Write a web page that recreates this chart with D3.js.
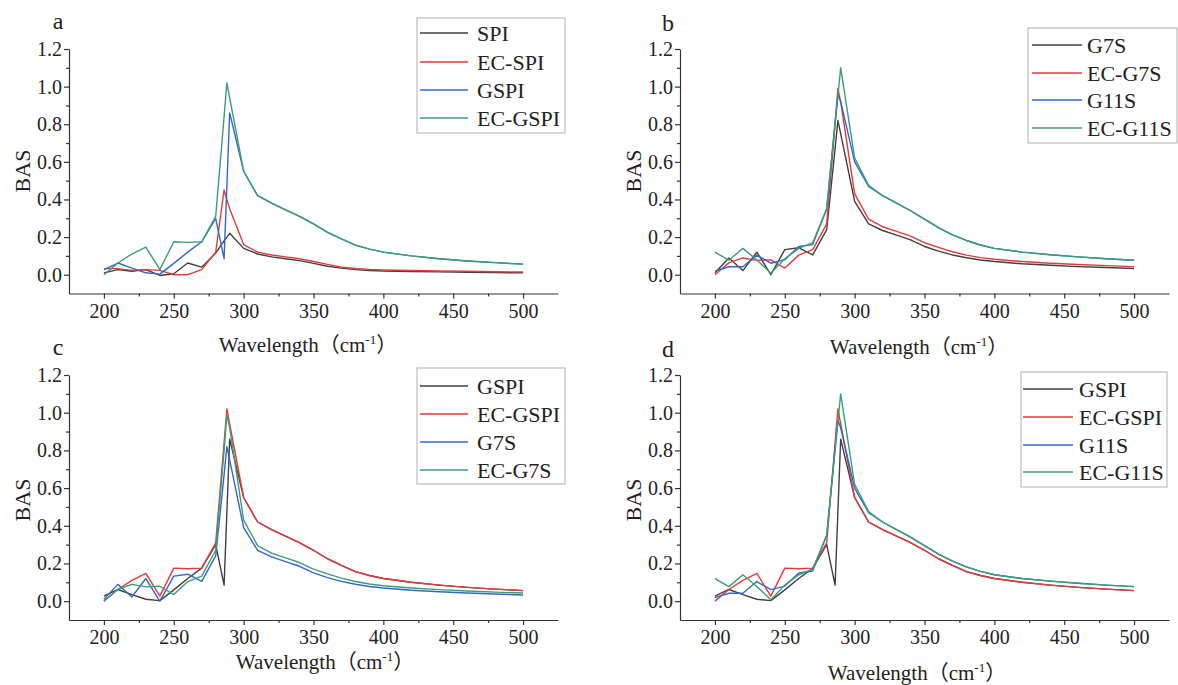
<!DOCTYPE html>
<html>
<head>
<meta charset="utf-8">
<script src="https://cdn.jsdelivr.net/npm/d3@7"></script>
<style>
    body { margin: 0; background: #fff; }
    svg { display: block; }
    svg text { font-family: "Liberation Serif", "Times New Roman", "Noto Sans CJK SC", serif; }
    .line { fill: none; stroke-width: 1.4; stroke-linejoin: round; }
    .axis path, .axis line { stroke: #333; stroke-width: 1.2; }
    .axis text { fill: #222; }
</style>
</head>
<body>
<div id="chart"></div>
<script>

// wavelength grid (cm-1) shared by all series
var wavelength = [200, 210, 220, 230, 240, 250, 260, 270, 280, 286, 288, 290, 300, 310, 320, 330, 340, 350, 360, 370, 380, 390, 400, 420, 440, 460, 480, 500];

var spi    = [0.010, 0.027, 0.018, 0.027, -0.004, 0.005, 0.062, 0.040, 0.115, 0.180, 0.200, 0.220, 0.140, 0.110, 0.095, 0.085, 0.075, 0.060, 0.045, 0.035, 0.027, 0.022, 0.020, 0.017, 0.015, 0.013, 0.011, 0.010];
var ecSpi  = [0.032, 0.032, 0.023, 0.027, 0.023, 0.000, 0.000, 0.027, 0.120, 0.450, 0.400, 0.350, 0.160, 0.120, 0.105, 0.095, 0.085, 0.070, 0.055, 0.040, 0.033, 0.028, 0.025, 0.022, 0.020, 0.018, 0.016, 0.014];
var gspi   = [0.027, 0.062, 0.035, 0.010, 0.003, 0.060, 0.120, 0.175, 0.300, 0.085, 0.470, 0.860, 0.550, 0.420, 0.380, 0.345, 0.310, 0.270, 0.225, 0.190, 0.157, 0.136, 0.120, 0.100, 0.085, 0.073, 0.064, 0.056];
var ecGspi = [0.000, 0.062, 0.110, 0.147, 0.027, 0.175, 0.172, 0.175, 0.310, 0.840, 1.020, 0.940, 0.550, 0.420, 0.380, 0.345, 0.310, 0.270, 0.225, 0.190, 0.157, 0.136, 0.120, 0.100, 0.085, 0.073, 0.064, 0.056];
var g7s    = [0.010, 0.089, 0.022, 0.120, 0.000, 0.133, 0.143, 0.105, 0.240, 0.670, 0.820, 0.750, 0.390, 0.270, 0.235, 0.210, 0.185, 0.150, 0.125, 0.105, 0.090, 0.078, 0.070, 0.058, 0.050, 0.043, 0.038, 0.033];
var ecG7s  = [0.000, 0.063, 0.089, 0.076, 0.079, 0.035, 0.104, 0.133, 0.270, 0.800, 0.990, 0.920, 0.430, 0.295, 0.255, 0.230, 0.205, 0.170, 0.145, 0.122, 0.104, 0.091, 0.082, 0.070, 0.061, 0.054, 0.048, 0.043];
var g11s   = [0.019, 0.042, 0.042, 0.104, 0.061, 0.080, 0.150, 0.160, 0.350, 0.810, 0.960, 0.920, 0.600, 0.470, 0.420, 0.380, 0.340, 0.295, 0.250, 0.212, 0.182, 0.158, 0.140, 0.120, 0.106, 0.095, 0.085, 0.077];
var ecG11s = [0.120, 0.077, 0.140, 0.078, 0.008, 0.085, 0.140, 0.170, 0.350, 0.800, 0.950, 1.100, 0.620, 0.475, 0.420, 0.380, 0.340, 0.295, 0.250, 0.212, 0.182, 0.158, 0.140, 0.120, 0.106, 0.095, 0.085, 0.077];

// which samples go in each panel (legend order)
var panelSeries = [
    ["SPI", "EC-SPI", "GSPI", "EC-GSPI"],
    ["G7S", "EC-G7S", "G11S", "EC-G11S"],
    ["GSPI", "EC-GSPI", "G7S", "EC-G7S"],
    ["GSPI", "EC-GSPI", "G11S", "EC-G11S"]
];
var panelLetters = ["a", "b", "c", "d"];

var xTicks = [200, 250, 300, 350, 400, 450, 500];
var xMinorTicks = [225, 275, 325, 375, 425, 475];
var yTicks = [0, 0.2, 0.4, 0.6, 0.8, 1.0, 1.2];
var yMinorTicks = [0.1, 0.3, 0.5, 0.7, 0.9, 1.1];

var seriesByName = {
    "SPI": spi, "EC-SPI": ecSpi, "GSPI": gspi, "EC-GSPI": ecGspi,
    "G7S": g7s, "EC-G7S": ecG7s, "G11S": g11s, "EC-G11S": ecG11s
};

var lineColors = ["#404040", "#e53a3a", "#3466cc", "#3a9e78"];

var serif = "Liberation Serif, Times New Roman, Noto Sans CJK SC, serif";

// page positions of each panel
var panelLayout = [
    {left: 69,  right: 558,  top: 49,  bottom: 293.5, letter: [58, 29],   yLabel: [22, 171],  xLabel: [308, 352],
        legend: {x: 417,  y: 18,  w: 148, h: 115, line: [3, 51], text: 60, rows: [33, 62, 90, 118]}},
    {left: 680, right: 1169, top: 49,  bottom: 293.5, letter: [668, 31],  yLabel: [633, 171], xLabel: [919, 354],
        legend: {x: 1028, y: 28,  w: 149, h: 115, line: [4, 54], text: 59, rows: [45, 73, 100, 128]}},
    {left: 69,  right: 558,  top: 375, bottom: 620,   letter: [58, 355],  yLabel: [22, 500],  xLabel: [325, 669],
        legend: {x: 417,  y: 368, w: 148, h: 116, line: [3, 51], text: 60, rows: [386, 414, 442, 470]}},
    {left: 680, right: 1169, top: 375, bottom: 620,   letter: [668, 357], yLabel: [633, 500], xLabel: [917, 680],
        legend: {x: 1021, y: 372, w: 146, h: 115, line: [2, 52], text: 58, rows: [389, 417, 445, 472]}}
];


var svg = d3.select("#chart").append("svg")
    .attr("width", 1178)
    .attr("height", 685);

svg.append("rect")
    .attr("width", 1178)
    .attr("height", 685)
    .attr("fill", "#fff");


SpectrumPanel = function(_svg, _layout, _names, _letter){
    this.svg = _svg;
    this.layout = _layout;
    this.names = _names;
    this.letter = _letter;

    this.initVis();
}


/*
 * Scales, axes, labels
 */

SpectrumPanel.prototype.initVis = function(){
    var vis = this;
    var L = vis.layout;

    vis.x = d3.scaleLinear()
        .domain([175, 525])
        .range([L.left, L.right]);

    vis.y = d3.scaleLinear()
        .domain([-0.1, 1.2])
        .range([L.bottom, L.top]);

    vis.g = vis.svg.append("g")
        .attr("font-family", serif);

    // minor ticks first, major axis drawn on top
    vis.g.append("g")
        .attr("class", "axis")
        .attr("transform", "translate(0," + L.bottom + ")")
        .call(d3.axisBottom(vis.x).tickValues(xMinorTicks).tickSize(3).tickFormat(""))
        .select(".domain").remove();

    vis.g.append("g")
        .attr("class", "axis")
        .attr("transform", "translate(" + L.left + ",0)")
        .call(d3.axisLeft(vis.y).tickValues(yMinorTicks).tickSize(3).tickFormat(""))
        .select(".domain").remove();

    vis.xAxis = d3.axisBottom(vis.x)
        .tickValues(xTicks)
        .tickSize(5)
        .tickSizeOuter(0)
        .tickPadding(5);

    vis.yAxis = d3.axisLeft(vis.y)
        .tickValues(yTicks)
        .tickSize(5)
        .tickSizeOuter(0)
        .tickPadding(2)
        .tickFormat(d3.format(".1f"));

    vis.g.append("g")
        .attr("class", "axis x-axis")
        .attr("transform", "translate(0," + L.bottom + ")")
        .call(vis.xAxis)
        .attr("font-family", serif)
        .attr("font-size", 20);

    vis.g.append("g")
        .attr("class", "axis y-axis")
        .attr("transform", "translate(" + L.left + ",0)")
        .call(vis.yAxis)
        .attr("font-family", serif)
        .attr("font-size", 20);

    vis.g.append("text")
        .attr("x", L.letter[0])
        .attr("y", L.letter[1])
        .attr("text-anchor", "middle")
        .attr("font-size", 24)
        .attr("fill", "#222")
        .text(vis.letter);

    vis.g.append("text")
        .attr("transform", "translate(" + L.yLabel[0] + "," + L.yLabel[1] + ") rotate(-90)")
        .attr("dy", "0.35em")
        .attr("text-anchor", "middle")
        .attr("font-size", 22)
        .attr("fill", "#222")
        .text("BAS");

    var xl = vis.g.append("text")
        .attr("x", L.xLabel[0])
        .attr("y", L.xLabel[1])
        .attr("text-anchor", "middle")
        .attr("font-size", 21)
        .attr("fill", "#222");
    xl.append("tspan").text("Wavelength");
    xl.append("tspan").attr("font-family", "Noto Sans CJK SC").text("（");
    xl.append("tspan").text("cm");
    xl.append("tspan").attr("dy", -8).attr("font-size", 13).text("-1");
    xl.append("tspan").attr("dy", 8).attr("font-family", "Noto Sans CJK SC").text("）");

    vis.updateVis();
}


/*
 * Lines and legend
 */

SpectrumPanel.prototype.updateVis = function(){
    var vis = this;
    var L = vis.layout;

    vis.line = d3.line()
        .x(function(d, i) { return vis.x(wavelength[i]); })
        .y(function(d) { return vis.y(d); });

    vis.g.selectAll(".line")
        .data(vis.names)
        .enter()
        .append("path")
        .attr("class", "line")
        .attr("stroke", function(d, i) { return lineColors[i]; })
        .attr("d", function(d) { return vis.line(seriesByName[d]); });

    var lg = vis.g.append("g")
        .attr("transform", "translate(" + L.legend.x + ",0)");

    lg.append("rect")
        .attr("x", 0)
        .attr("y", L.legend.y)
        .attr("width", L.legend.w)
        .attr("height", L.legend.h)
        .attr("fill", "#fff")
        .attr("stroke", "#b0b0b0")
        .attr("stroke-width", 1);

    var row = lg.selectAll(".row")
        .data(vis.names)
        .enter()
        .append("g")
        .attr("class", "row");

    row.append("line")
        .attr("x1", L.legend.line[0])
        .attr("x2", L.legend.line[1])
        .attr("y1", function(d, i) { return L.legend.rows[i]; })
        .attr("y2", function(d, i) { return L.legend.rows[i]; })
        .attr("stroke", function(d, i) { return lineColors[i]; })
        .attr("stroke-width", 1.4);

    row.append("text")
        .attr("x", L.legend.text)
        .attr("y", function(d, i) { return L.legend.rows[i]; })
        .attr("dy", "0.35em")
        .attr("font-size", 22)
        .attr("fill", "#222")
        .text(function(d) { return d; });
}


for (var p = 0; p < panelLayout.length; p++) {
    new SpectrumPanel(svg, panelLayout[p], panelSeries[p], panelLetters[p]);
}

</script>
</body>
</html>
